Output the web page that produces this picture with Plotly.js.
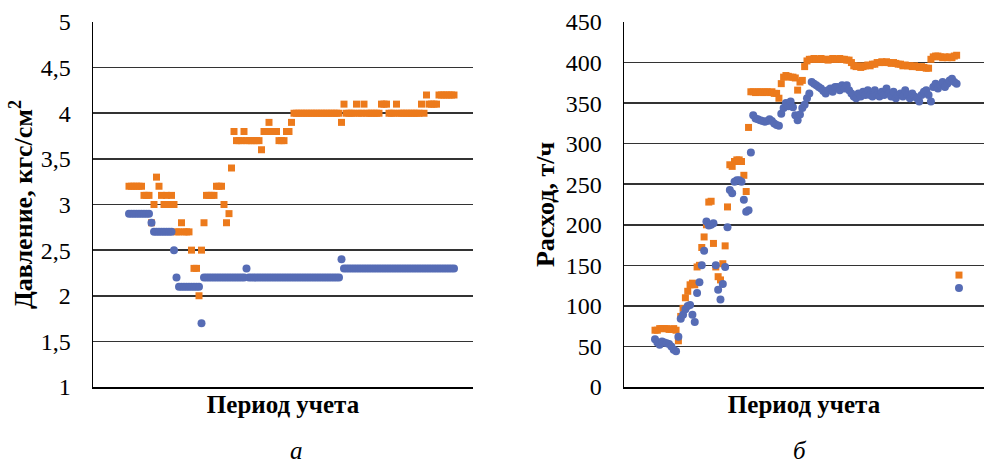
<!DOCTYPE html>
<html>
<head>
<meta charset="utf-8">
<script src="https://cdn.plot.ly/plotly-3.0.1.min.js"></script>
<style>
html,body{margin:0;padding:0;background:#ffffff;}
#chart{width:985px;height:464px;}
</style>
</head>
<body>
<div id="chart"></div>
<script>
// ---- Data ----
const pressureBlue = [
  2.9,2.9,2.9,2.9,2.9,2.9,2.9,2.9,2.9,2.8,
  2.7,2.7,2.7,2.7,2.7,2.7,2.7,2.7,2.5,2.2,
  2.1,2.1,2.1,2.1,2.1,2.1,2.1,2.1,2.1,1.7,
  2.2,2.2,2.2,2.2,2.2,2.2,2.2,2.2,2.2,2.2,
  2.2,2.2,2.2,2.2,2.2,2.2,2.2,2.3,2.2,2.2,
  2.2,2.2,2.2,2.2,2.2,2.2,2.2,2.2,2.2,2.2,
  2.2,2.2,2.2,2.2,2.2,2.2,2.2,2.2,2.2,2.2,
  2.2,2.2,2.2,2.2,2.2,2.2,2.2,2.2,2.2,2.2,
  2.2,2.2,2.2,2.2,2.2,2.4,2.3,2.3,2.3,2.3,
  2.3,2.3,2.3,2.3,2.3,2.3,2.3,2.3,2.3,2.3,
  2.3,2.3,2.3,2.3,2.3,2.3,2.3,2.3,2.3,2.3,
  2.3,2.3,2.3,2.3,2.3,2.3,2.3,2.3,2.3,2.3,
  2.3,2.3,2.3,2.3,2.3,2.3,2.3,2.3,2.3,2.3,
  2.3
];
const pressureOrange = [
  3.2,3.2,3.2,3.2,3.2,3.2,3.1,3.1,3.1,2.8,
  3.0,3.3,3.2,3.1,3.0,3.1,3.0,3.1,3.0,2.7,
  2.7,2.8,2.7,2.7,2.7,2.5,2.3,2.3,2.0,2.5,
  2.8,3.1,3.1,3.1,3.1,3.2,3.2,3.2,3.0,2.8,
  2.9,3.4,3.8,3.7,3.7,3.7,3.8,3.7,3.7,3.7,
  3.7,3.7,3.7,3.6,3.8,3.8,3.9,3.8,3.8,3.8,
  3.7,3.7,3.7,3.8,3.8,3.9,4.0,4.0,4.0,4.0,
  4.0,4.0,4.0,4.0,4.0,4.0,4.0,4.0,4.0,4.0,
  4.0,4.0,4.0,4.0,4.0,3.9,4.1,4.0,4.0,4.0,
  4.0,4.1,4.0,4.0,4.1,4.0,4.0,4.0,4.0,4.0,
  4.0,4.1,4.1,4.1,4.0,4.0,4.0,4.1,4.0,4.0,
  4.0,4.0,4.0,4.0,4.0,4.0,4.0,4.1,4.0,4.2,
  4.1,4.1,4.1,4.1,4.2,4.2,4.2,4.2,4.2,4.2,
  4.2
];
const flowBlue = [
  59,55,52,56,55,54,53,50,46,44,
  62,84,89,96,100,101,89,80,116,129,
  150,168,204,199,200,202,150,120,108,127,
  148,197,243,239,253,255,255,253,231,216,
  218,289,335,331,330,329,328,327,328,330,
  328,325,323,322,337,344,350,346,352,345,
  335,329,336,344,348,356,362,376,374,372,
  370,368,365,362,366,368,364,370,370,366,
  372,368,372,366,362,358,356,362,358,364,
  360,366,360,358,366,360,358,364,360,368,
  362,358,364,356,360,362,358,366,360,356,
  362,358,356,352,360,364,366,360,352,370,
  374,368,372,376,370,374,378,380,376,374,
  122
];
const flowOrange = [
  70,70,72,72,72,72,71,71,72,70,
  57,87,97,110,118,126,128,126,148,150,
  172,185,200,228,229,177,148,136,132,152,
  174,222,274,272,278,280,280,278,261,241,
  320,364,364,363,364,364,363,364,364,363,
  364,362,362,356,374,382,384,383,382,382,
  381,366,376,378,395,402,404,404,405,404,
  404,405,404,404,403,404,405,404,404,405,
  404,404,403,403,400,396,395,396,394,395,
  396,397,396,398,398,400,400,401,400,401,
  400,399,400,399,398,398,396,397,396,396,
  395,396,395,394,395,394,393,393,404,407,
  408,408,407,406,407,406,407,406,408,409,
  138
];
const pressureTicks = [1, 1.5, 2, 2.5, 3, 3.5, 4, 4.5, 5];
const flowTicks = [0, 50, 100, 150, 200, 250, 300, 350, 400, 450];
const xTitleText = 'Период учета';
const pressureTitle = 'Давление, кгс/см<sup>2</sup>';
const flowTitle = 'Расход, т/ч';
const panelLabels = ['а', 'б'];

// ---- Styles ----
const FONT = 'Liberation Serif, Times New Roman, serif';
const BLUE = '#566cb5';
const ORANGE = '#ec7a1c';
const GRID = '#333333';

const idxP = pressureBlue.map((_, i) => i);
const idxF = flowBlue.map((_, i) => i);

const traces = [
  {x: idxP, y: pressureOrange, type: 'scatter', mode: 'markers', xaxis: 'x', yaxis: 'y',
   marker: {symbol: 'square', size: 7, color: ORANGE}},
  {x: idxP, y: pressureBlue, type: 'scatter', mode: 'markers', xaxis: 'x', yaxis: 'y',
   marker: {symbol: 'circle', size: 8, color: BLUE}},
  {x: idxF, y: flowOrange, type: 'scatter', mode: 'markers', xaxis: 'x2', yaxis: 'y2',
   marker: {symbol: 'square', size: 7, color: ORANGE}},
  {x: idxF, y: flowBlue, type: 'scatter', mode: 'markers', xaxis: 'x2', yaxis: 'y2',
   marker: {symbol: 'circle', size: 8, color: BLUE}}
];

const W = 985, H = 464;
function px(x) { return x / W; }
function py(y) { return (H - y) / H; }

const tickFont = {family: FONT, size: 24, color: '#000'};
const xTitleFont = {family: FONT, size: 25, color: '#000', weight: 'bold'};
const yTitleFont = {family: FONT, size: 26, color: '#000', weight: 'bold'};

function xAxis(domain, range, anchor) {
  return {
    domain: domain, range: range, anchor: anchor,
    showticklabels: false, showgrid: false, zeroline: false, ticks: '',
    showline: true, linecolor: '#000', linewidth: 1.5,
    title: {text: xTitleText, font: xTitleFont, standoff: 8},
    fixedrange: true
  };
}
function yAxis(domain, range, tickvals, titleText, anchor, standoff) {
  return {
    domain: domain, range: range, anchor: anchor,
    tickvals: tickvals, tickfont: tickFont,
    ticks: 'outside', ticklen: 16, tickcolor: 'rgba(0,0,0,0)',
    showgrid: true, gridcolor: GRID, gridwidth: 1.6, zeroline: false,
    showline: true, linecolor: '#000', linewidth: 1.5,
    title: {text: titleText, font: yTitleFont, standoff: standoff},
    fixedrange: true
  };
}

const yDom = [py(387), py(22)];
const layout = {
  width: W, height: H,
  margin: {l: 0, r: 0, t: 0, b: 0},
  paper_bgcolor: '#fff', plot_bgcolor: '#fff',
  separators: ', ',
  showlegend: false,
  hovermode: false,
  xaxis: xAxis([px(93), px(473)], [-14.4, 137.6], 'y'),
  yaxis: yAxis(yDom, [1, 5], pressureTicks, pressureTitle, 'x', 0),
  xaxis2: xAxis([px(624), px(984)], [-13.26, 140.7], 'y2'),
  yaxis2: yAxis(yDom, [0, 450], flowTicks, flowTitle, 'x2', 3),
  annotations: [
    {text: panelLabels[0], xref: 'paper', yref: 'paper', x: px(296), y: py(450),
     xanchor: 'center', yanchor: 'middle', showarrow: false,
     font: {family: FONT, size: 25, color: '#000', style: 'italic'}},
    {text: panelLabels[1], xref: 'paper', yref: 'paper', x: px(800), y: py(450),
     xanchor: 'center', yanchor: 'middle', showarrow: false,
     font: {family: FONT, size: 25, color: '#000', style: 'italic'}}
  ]
};

Plotly.newPlot('chart', traces, layout, {staticPlot: true, displayModeBar: false});
</script>
</body>
</html>
